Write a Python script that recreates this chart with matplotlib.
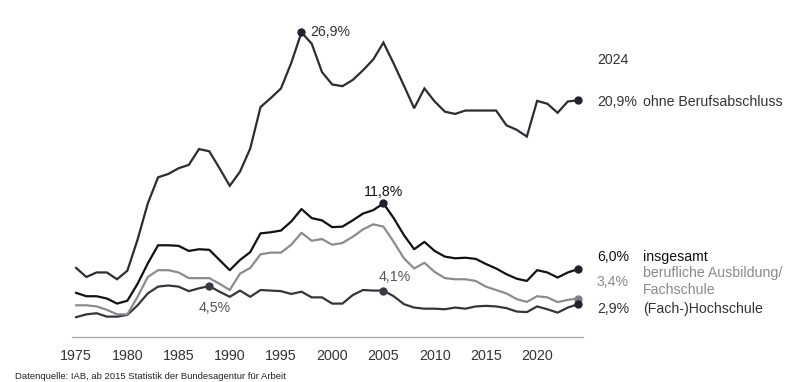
import numpy as np
import matplotlib
matplotlib.use('Agg')
import matplotlib.pyplot as plt

plt.rcParams['font.family'] = ['Liberation Sans', 'DejaVu Sans']

# Arbeitslosenquoten nach Qualifikation, 1975-2024 (in %)
jahre = list(range(1975, 2025))

ohne_abschluss = [6.1, 5.3, 5.7, 5.7, 5.1, 5.85, 8.6, 11.8, 14.1, 14.4,
                  14.9, 15.2, 16.6, 16.4, 14.9, 13.35, 14.6, 16.65, 20.3, 21.1,
                  21.95, 24.2, 26.9, 25.9, 23.4, 22.3, 22.15, 22.7, 23.55, 24.5,
                  26.0, 24.15, 22.2, 20.2, 21.95, 20.8, 19.9, 19.7, 20.0, 20.0,
                  20.0, 20.0, 18.7, 18.3, 17.7, 20.85, 20.6, 19.8, 20.8, 20.9]

insgesamt = [3.9, 3.6, 3.6, 3.4, 2.95, 3.2, 4.7, 6.5, 8.1, 8.1,
             8.05, 7.6, 7.75, 7.7, 6.8, 5.9, 6.8, 7.5, 9.15, 9.25,
             9.4, 10.2, 11.3, 10.5, 10.3, 9.7, 9.75, 10.3, 10.9, 11.2,
             11.8, 10.5, 9.0, 7.75, 8.4, 7.6, 7.1, 6.95, 7.0, 6.9,
             6.45, 6.05, 5.55, 5.15, 4.95, 5.9, 5.7, 5.25, 5.7, 6.0]

beruflich = [2.8, 2.8, 2.7, 2.4, 2.0, 2.0, 3.55, 5.3, 5.9, 5.9,
             5.7, 5.2, 5.2, 5.2, 4.7, 4.15, 5.6, 6.1, 7.3, 7.45,
             7.45, 8.15, 9.2, 8.5, 8.65, 8.15, 8.3, 8.85, 9.5, 9.95,
             9.75, 8.4, 6.95, 6.05, 6.55, 5.75, 5.2, 5.1, 5.1, 4.95,
             4.45, 4.15, 3.85, 3.35, 3.1, 3.6, 3.5, 3.08, 3.28, 3.4]

hochschule = [1.75, 2.0, 2.1, 1.8, 1.8, 1.95, 2.8, 3.85, 4.45, 4.55,
              4.45, 4.05, 4.3, 4.5, 4.0, 3.55, 4.1, 3.55, 4.15, 4.1,
              4.05, 3.8, 4.0, 3.5, 3.5, 2.95, 2.95, 3.7, 4.15, 4.1,
              4.1, 3.6, 2.9, 2.6, 2.5, 2.5, 2.45, 2.6, 2.5, 2.7,
              2.75, 2.7, 2.55, 2.25, 2.2, 2.7, 2.45, 2.15, 2.6, 2.9]

c_ohne = '#2c2c33'
c_ges = '#111111'
c_ber = '#8c8c8c'
c_hoch = '#35353d'
c_dot = '#22222e'

fig = plt.figure(figsize=(8, 3.82), dpi=100)
ax = fig.add_axes([0.09, 0.1178, 0.639, 0.830])

ax.plot(jahre, ohne_abschluss, color=c_ohne, lw=1.6, solid_joinstyle='miter')
ax.plot(jahre, hochschule, color=c_hoch, lw=1.6)
ax.plot(jahre, beruflich, color=c_ber, lw=1.6)
ax.plot(jahre, insgesamt, color=c_ges, lw=1.6)

# markierte Punkte
ax.plot(jahre[-1], ohne_abschluss[-1], 'o', color=c_dot, ms=5)
ax.plot(jahre[-1], insgesamt[-1], 'o', color=c_dot, ms=5)
ax.plot(jahre[-1], beruflich[-1], 'o', color='#808080', ms=5)
ax.plot(jahre[-1], hochschule[-1], 'o', color=c_dot, ms=5)
i97 = jahre.index(1997)
i05 = jahre.index(2005)
i88 = jahre.index(1988)
ax.plot(1997, ohne_abschluss[i97], 'o', color=c_dot, ms=5)
ax.plot(2005, insgesamt[i05], 'o', color=c_dot, ms=5)
ax.plot(2005, hochschule[i05], 'o', color='#3a3a44', ms=5)
ax.plot(1988, hochschule[i88], 'o', color='#3a3a44', ms=5)

ax.annotate('26,9%', (1997, ohne_abschluss[i97]), xytext=(6.5, 0), textcoords='offset points',
            ha='left', va='center', fontsize=10.2, color='#333333')
ax.annotate('11,8%', (2005, insgesamt[i05]), xytext=(0, 8), textcoords='offset points',
            ha='center', va='center', fontsize=10.2, color='#111111')
ax.annotate('4,1%', (2005, hochschule[i05]), xytext=(8, 9.5), textcoords='offset points',
            ha='center', va='center', fontsize=10.2, color='#555555')
ax.annotate('4,5%', (1988, hochschule[i88]), xytext=(4, -15.5), textcoords='offset points',
            ha='center', va='center', fontsize=10.2, color='#555555')

ax.set_xlim(1974.6, 2024.5)
ax.set_ylim(0, 28)
ax.set_xticks(range(1975, 2025, 5))
ax.set_yticks([])
for s in ['top', 'right', 'left']:
    ax.spines[s].set_visible(False)
ax.spines['bottom'].set_color('#a8a8a8')
ax.spines['bottom'].set_linewidth(1.0)
ax.tick_params(axis='x', length=0, pad=8.5, labelsize=10.3, labelcolor='#333333')

# Beschriftung rechts
fig.text(597 / 800, 1 - 60 / 382, '2024', fontsize=10.2, color='#333333', va='center')
fig.text(597 / 800, 1 - 102 / 382, '20,9%', fontsize=10.2, color='#333333', va='center')
fig.text(643 / 800, 1 - 102 / 382, 'ohne Berufsabschluss', fontsize=10.2, color='#333333', va='center')
fig.text(597 / 800, 1 - 257 / 382, '6,0%', fontsize=10.2, color='#111111', va='center')
fig.text(643 / 800, 1 - 257 / 382, 'insgesamt', fontsize=10.2, color='#111111', va='center')
fig.text(597 / 800, 1 - 282 / 382, '3,4%', fontsize=10.2, color='#8a8a8a', va='center')
fig.text(643 / 800, 1 - 281.5 / 382, 'berufliche Ausbildung/\nFachschule', fontsize=10.2,
         color='#8a8a8a', va='center', linespacing=1.2)
fig.text(597 / 800, 1 - 309 / 382, '2,9%', fontsize=10.2, color='#333333', va='center')
fig.text(643 / 800, 1 - 309 / 382, '(Fach-)Hochschule', fontsize=10.2, color='#333333', va='center')

fig.text(15 / 800, 1 - 376.5 / 382, 'Datenquelle: IAB, ab 2015 Statistik der Bundesagentur für Arbeit',
         fontsize=6.8, color='#222222', va='center')

fig.savefig('out.png', dpi=100)
